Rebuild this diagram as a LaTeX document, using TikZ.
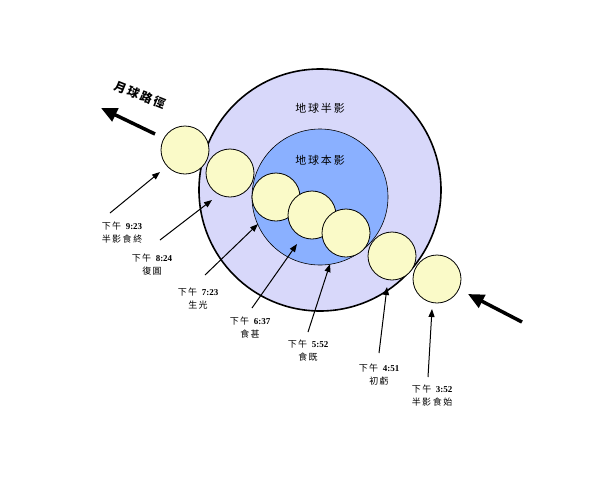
\documentclass[tikz,border=0pt]{standalone}
\usepackage{fontspec}
\setmainfont{Liberation Serif}
\newfontfamily\cjk{Noto Sans CJK TC}
\usetikzlibrary{arrows.meta}
\definecolor{pen}{HTML}{D8D8FA}
\definecolor{umb}{HTML}{8AB0FF}
\definecolor{moonc}{HTML}{FAFAC8}
\begin{document}
\begin{tikzpicture}[x=1pt,y=-1pt,
  moon/.style={circle,draw=black,fill=moonc,line width=0.8pt,minimum size=48pt,inner sep=0},
  lab/.style={font=\fontsize{9}{13}\selectfont,align=center,anchor=north},
  ptr/.style={-{Triangle[length=8pt,width=6pt]},line width=1pt},
  big/.style={-{Triangle[length=16pt,width=14pt]},line width=3.5pt}]
\useasboundingbox (0,0) rectangle (600,483);
\fill[white] (0,0) rectangle (600,483);
\node[circle,draw=black,fill=pen,line width=1.6pt,minimum size=242pt,inner sep=0] (pen) at (320,190) {};
\node[circle,draw=black,fill=umb,line width=0.6pt,minimum size=136pt,inner sep=0] (umb) at (320,197) {};
\node[font=\cjk\fontsize{11}{13}\selectfont] (tpen) at (320,108) {地\,球\,半\,影};
\node[font=\cjk\fontsize{11}{13}\selectfont] (tumb) at (320,160) {地\,球\,本\,影};
\node[moon] (m1) at (185,150) {};
\node[moon] (m2) at (230,173) {};
\node[moon] (m3) at (276,197) {};
\node[moon] (m4) at (312,215) {};
\node[moon] (m5) at (346,233) {};
\node[moon] (m6) at (392,256) {};
\node[moon] (m7) at (437,279) {};
\node[lab] (l1) at (122,218) {{\cjk 下\,午}\ \ \textbf{9:23}\\{\cjk 半\,影\,食\,終}};
\node[lab] (l2) at (152,250) {{\cjk 下\,午}\ \ \textbf{8:24}\\{\cjk 復\,圓}};
\node[lab] (l3) at (198,284) {{\cjk 下\,午}\ \ \textbf{7:23}\\{\cjk 生\,光}};
\node[lab] (l4) at (250,313) {{\cjk 下\,午}\ \ \textbf{6:37}\\{\cjk 食\,甚}};
\node[lab] (l5) at (308,336) {{\cjk 下\,午}\ \ \textbf{5:52}\\{\cjk 食\,既}};
\node[lab] (l6) at (379,360) {{\cjk 下\,午}\ \ \textbf{4:51}\\{\cjk 初\,虧}};
\node[lab] (l7) at (432,381) {{\cjk 下\,午}\ \ \textbf{3:52}\\{\cjk 半\,影\,食\,始}};
\coordinate (t1) at (160,172);
\coordinate (t2) at (212,200);
\coordinate (t3) at (258,224);
\coordinate (t4) at (297,244);
\coordinate (t5) at (330,264);
\coordinate (t6) at (387,287);
\coordinate (t7) at (432,309);
\draw[ptr] (110,213) -- (t1);
\draw[ptr] (160,240) -- (t2);
\draw[ptr] (205,275) -- (t3);
\draw[ptr] (252,308) -- (t4);
\draw[ptr] (308,332) -- (t5);
\draw[ptr] (379,353) -- (t6);
\draw[ptr] (428,377) -- (t7);
\coordinate (a1) at (155,134);
\coordinate (a2) at (101,108);
\coordinate (b1) at (522,322);
\coordinate (b2) at (468,294);
\draw[big] (a1) -- (a2);
\draw[big] (b1) -- (b2);
\node[font=\cjk\bfseries\fontsize{12}{14}\selectfont,rotate=-22] (path) at (140,95) {月\,球\,路\,徑};
\end{tikzpicture}
\end{document}
